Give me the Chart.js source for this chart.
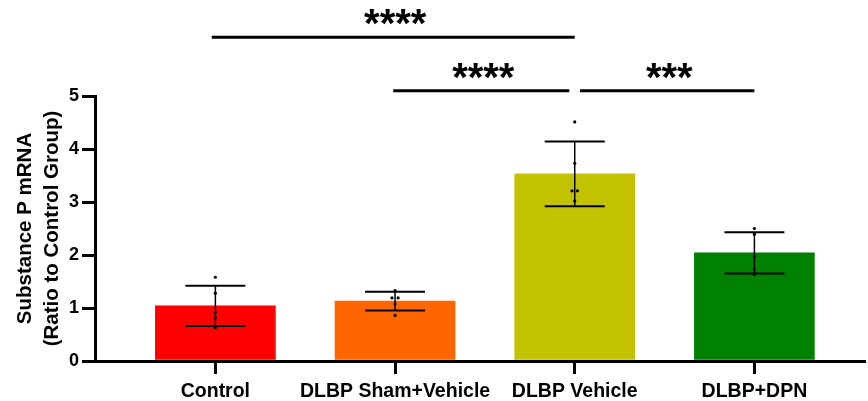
<!DOCTYPE html>
<html>
<head>
<meta charset="utf-8">
<script src="https://cdn.jsdelivr.net/npm/chart.js@4"></script>
<style>
  html, body { margin: 0; padding: 0; background: #fff; }
  #wrap { width: 868px; height: 401px; position: relative; }
</style>
</head>
<body>
<div id="wrap"><canvas id="chart"></canvas></div>
<script>
// Groups and bar values (ratio to control)
const groups = ['Control', 'DLBP Sham+Vehicle', 'DLBP Vehicle', 'DLBP+DPN'];
const means = [1.04, 1.13, 3.53, 2.04];
const sds = [0.38, 0.175, 0.61, 0.39];
const barColors = ['#ff0000', '#ff6600', '#c2c200', '#008000'];

// Individual samples per group: [group index + jitter, value]
const samplesX = [0, 0, 0, 0, 0,
                  1, 0.983, 1.017, 1, 1,
                  2, 2, 1.985, 2.015, 2,
                  3, 3, 3, 3, 3];
const samplesY = [1.58, 1.28, 0.92, 0.82, 0.63,
                  1.33, 1.19, 1.19, 1.08, 0.86,
                  4.51, 3.73, 3.21, 3.21, 3.02,
                  2.50, 2.39, 1.97, 1.73, 1.63];

// Significance brackets
const sigFrom = [-0.02, 0.99, 2.03];
const sigTo = [2.0, 1.97, 3.0];
const sigLevel = [6.11, 5.1, 5.1];
const sigLabel = ['****', '****', '***'];

const FONT = 'Liberation Sans, Arial, sans-serif';

const errorBars = {
    id: 'errorBars',
    afterDatasetsDraw(chart) {
        const ctx = chart.ctx;
        const xs = chart.scales.x, ys = chart.scales.y;
        ctx.save();
        ctx.strokeStyle = '#000';
        means.forEach((m, i) => {
            const cx = xs.getPixelForValue(i);
            const top = ys.getPixelForValue(m + sds[i]);
            const bot = ys.getPixelForValue(m - sds[i]);
            ctx.lineWidth = 1.5;
            ctx.beginPath();
            ctx.moveTo(cx, top);
            ctx.lineTo(cx, bot);
            ctx.stroke();
            ctx.lineWidth = 2;
            ctx.beginPath();
            ctx.moveTo(cx - 30, top); ctx.lineTo(cx + 30, top);
            ctx.moveTo(cx - 30, bot); ctx.lineTo(cx + 30, bot);
            ctx.stroke();
        });
        ctx.restore();
    }
};

const sigBrackets = {
    id: 'sigBrackets',
    afterDraw(chart) {
        const ctx = chart.ctx;
        const xs = chart.scales.x, ys = chart.scales.y;
        ctx.save();
        ctx.strokeStyle = '#000';
        ctx.fillStyle = '#000';
        ctx.lineWidth = 3;
        ctx.font = 'bold 40px ' + FONT;
        ctx.textAlign = 'center';
        ctx.textBaseline = 'alphabetic';
        sigLabel.forEach((lab, i) => {
            const x1 = xs.getPixelForValue(sigFrom[i]);
            const x2 = xs.getPixelForValue(sigTo[i]);
            const y = ys.getPixelForValue(sigLevel[i]);
            ctx.beginPath();
            ctx.moveTo(x1, y);
            ctx.lineTo(x2, y);
            ctx.stroke();
            ctx.fillText(lab, (x1 + x2) / 2 + 2, y);
        });
        ctx.restore();
    }
};

new Chart(document.getElementById('chart'), {
    data: {
        datasets: [{
            type: 'bar',
            data: means.map((v, i) => ({ x: i, y: v })),
            backgroundColor: barColors,
            borderWidth: 0,
            barThickness: 120,
            order: 2
        }, {
            type: 'scatter',
            data: samplesX.map((x, i) => ({ x: x, y: samplesY[i] })),
            backgroundColor: '#000',
            borderWidth: 0,
            pointRadius: 1.6,
            order: 1
        }]
    },
    options: {
        responsive: true,
        maintainAspectRatio: false,
        animation: false,
        layout: { padding: { top: 96, right: 0, bottom: 0, left: 0 } },
        plugins: {
            legend: { display: false },
            tooltip: { enabled: false }
        },
        scales: {
            x: {
                type: 'linear',
                min: -0.67,
                max: 3.61,
                offset: false,
                afterFit: s => { s.height = 40; },
                afterBuildTicks: axis => { axis.ticks = groups.map((g, i) => ({ value: i })); },
                border: { color: '#000', width: 3 },
                grid: { offset: false, drawOnChartArea: false, drawTicks: true, tickLength: 13, lineWidth: 3, color: '#000' },
                ticks: {
                    color: '#000',
                    padding: 6,
                    maxRotation: 0,
                    autoSkip: false,
                    font: { family: FONT, size: 19.5, weight: 'bold' },
                    callback: v => groups[v]
                }
            },
            y: {
                min: 0,
                max: 5,
                afterFit: s => { s.width = 95; },
                border: { color: '#000', width: 3 },
                grid: { drawOnChartArea: false, drawTicks: true, tickLength: 13, lineWidth: 3, color: '#000' },
                ticks: {
                    stepSize: 1,
                    color: '#000',
                    padding: 3,
                    font: { family: FONT, size: 18, weight: 'bold' }
                },
                title: {
                    display: true,
                    text: ['Substance P mRNA', '(Ratio to Control Group)'],
                    color: '#000',
                    padding: { top: 12, bottom: 0 },
                    font: { family: FONT, size: 20.5, weight: 'bold', lineHeight: 1.3 }
                }
            }
        }
    },
    plugins: [errorBars, sigBrackets]
});
</script>
</body>
</html>
